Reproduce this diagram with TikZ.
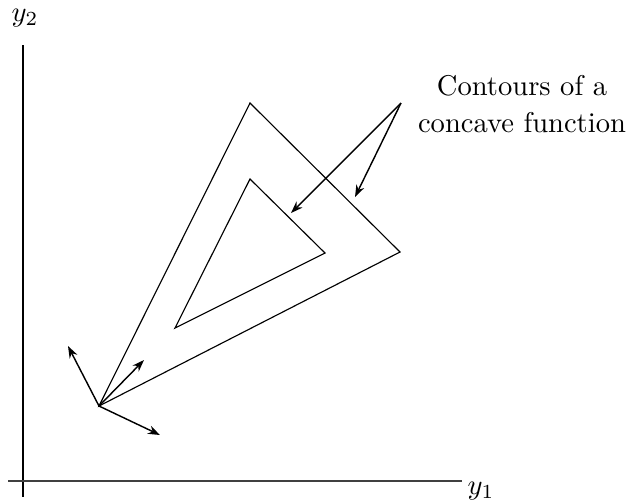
\documentclass[tikz,border=0pt]{standalone}
\usetikzlibrary{arrows.meta}
\begin{document}
\begin{tikzpicture}[x=0.35pt,y=-0.35pt,
  edge/.style={line width=0.4pt},
  vec/.style={line width=0.5pt,-{Stealth[length=4.2pt,width=3pt]}},
  lbl/.style={inner sep=0pt,font=\fontsize{10}{13}\selectfont}]
\useasboundingbox (0,0) rectangle (629,503);
% axes
\coordinate (vtop) at (23,45);
\coordinate (vbot) at (23,497);
\coordinate (hl) at (8,481);
\coordinate (hr) at (462,481);
\draw[edge] (vtop) -- (vbot);
\draw[edge,black!75] (hl) -- (hr);
\node[lbl] (ytwo) at (25,18) {$y_2$};
\node[lbl] (yone) at (481,491) {$y_1$};
% outer triangle
\coordinate (O) at (99,406);
\coordinate (A) at (250,103);
\coordinate (B) at (400,252);
\draw[edge] (O) -- (A) -- (B) -- cycle;
% inner triangle
\coordinate (P) at (175,328);
\coordinate (Q) at (250,179);
\coordinate (R) at (325,253);
\draw[edge] (P) -- (Q) -- (R) -- cycle;
% vectors at the corner
\coordinate (v1) at (68,346);
\coordinate (v2) at (144,360);
\coordinate (v3) at (160,435);
\draw[vec] (O) -- (v1);
\draw[vec] (O) -- (v2);
\draw[vec] (O) -- (v3);
% label and pointers
\node[lbl,align=center] (txt) at (522,104) {Contours of a\\concave function};
\coordinate (S) at (401,103);
\coordinate (t1) at (291,213);
\coordinate (t2) at (355,197);
\draw[vec] (S) -- (t1);
\draw[vec] (S) -- (t2);
\end{tikzpicture}
\end{document}
